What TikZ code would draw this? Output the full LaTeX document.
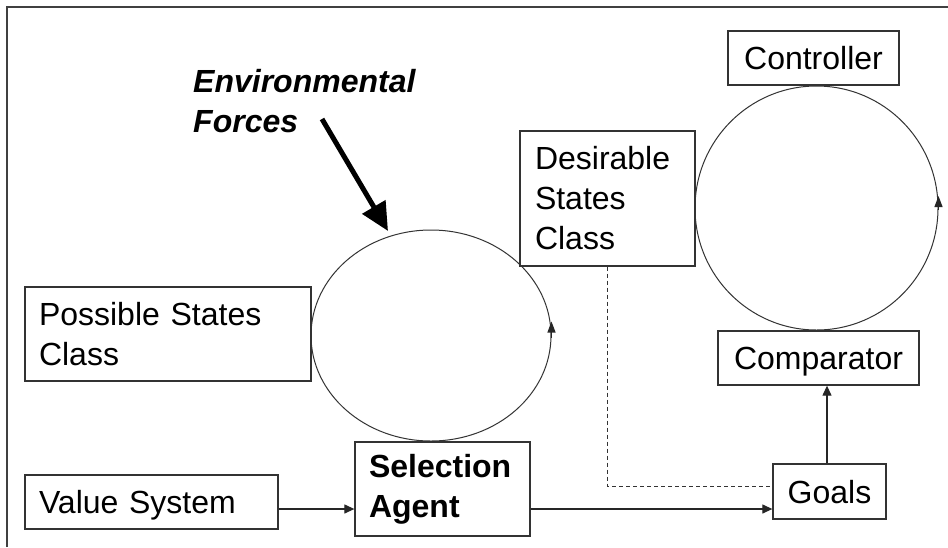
\documentclass[tikz,border=0pt]{standalone}
\usepackage{fontspec}
\setmainfont{Liberation Sans}
\usetikzlibrary{shapes.geometric,arrows.meta}
\begin{document}
\begin{tikzpicture}[x=1pt,y=-1pt,
  font=\fontsize{32}{40}\selectfont,
  box/.style={rectangle, draw=black!80, line width=1.3pt, inner sep=0pt},
  lbox/.style={box, align=left},
  sline/.style={text height=23pt, text depth=0pt},
  loopring/.style={ellipse, draw=black!80, line width=1pt, inner sep=0pt},
  conn/.style={draw=black!85, line width=1.2pt, -{Triangle[length=10pt,width=9pt]}},
  ringtip/.style={draw=black!85, line width=1.2pt, -{Triangle[length=11pt,width=8pt]}},
  dline/.style={draw=black!80, line width=1pt, dash pattern=on 4pt off 3pt},
  bigarrow/.style={draw=black, line width=5pt, -{Triangle[length=28pt,width=26pt]}},
  frame/.style={draw=black!75, line width=1.5pt}
]
\useasboundingbox (0,0) rectangle (948,547);
\fill[white] (0,0) rectangle (948,547);
\draw[frame] (7,547) -- (7,7) -- (948,7);

% rings
\node[loopring, minimum width=240pt, minimum height=211pt] (lc) at (431,335.5) {};
\node[loopring, minimum width=243pt, minimum height=244pt] (rc) at (816.5,208) {};

% boxes
\node[box, sline, minimum width=171pt, minimum height=54pt] (ctrl) at (813.5,58) {Controller};
\node[box, sline, minimum width=201pt, minimum height=54pt] (comp) at (818.5,358) {Comparator};
\node[box, sline, minimum width=113pt, minimum height=55pt] (goals) at (829.5,491.5) {Goals};
\node[lbox, text width=145pt, minimum width=175pt, minimum height=135pt] (desir) at (607.5,198.5) {Desirable\\States\\Class};
\node[lbox, text width=258pt, minimum width=286pt, minimum height=94pt] (poss) at (168,334) {Possible States\\Class};
\node[lbox, text width=147pt, minimum width=175pt, minimum height=94pt, font=\fontsize{32}{40}\selectfont\bfseries] (sel) at (442.5,489) {Selection\\Agent};
\node[lbox, sline, text width=225pt, minimum width=253pt, minimum height=54pt] (val) at (151.5,502) {Value System};

% environmental forces
\node[anchor=north west, inner sep=0pt, align=left, font=\fontsize{32}{40}\selectfont\bfseries\itshape] (env) at (193,69) {Environmental\\Forces};
\coordinate (efstart) at (322,119);
\coordinate (eftip) at (388,231);
\draw[bigarrow] (efstart) -- (eftip);

% ring direction tips
\draw[ringtip] ([yshift=-2pt]lc.east) -- ([yshift=14pt]lc.east);
\draw[ringtip] ([yshift=-2pt]rc.east) -- ([yshift=12pt]rc.east);

% connectors
\coordinate (ybot) at (0,509);
\coordinate (ydash) at (0,486);
\coordinate (xg) at (827,0);
\draw[conn] (val.east |- ybot) -- (sel.west |- ybot);
\draw[conn] (sel.east |- ybot) -- (goals.west |- ybot);
\draw[conn] (goals.north -| xg) -- (comp.south -| xg);
\draw[dline] (desir.south) |- (goals.west |- ydash);
\end{tikzpicture}
\end{document}
